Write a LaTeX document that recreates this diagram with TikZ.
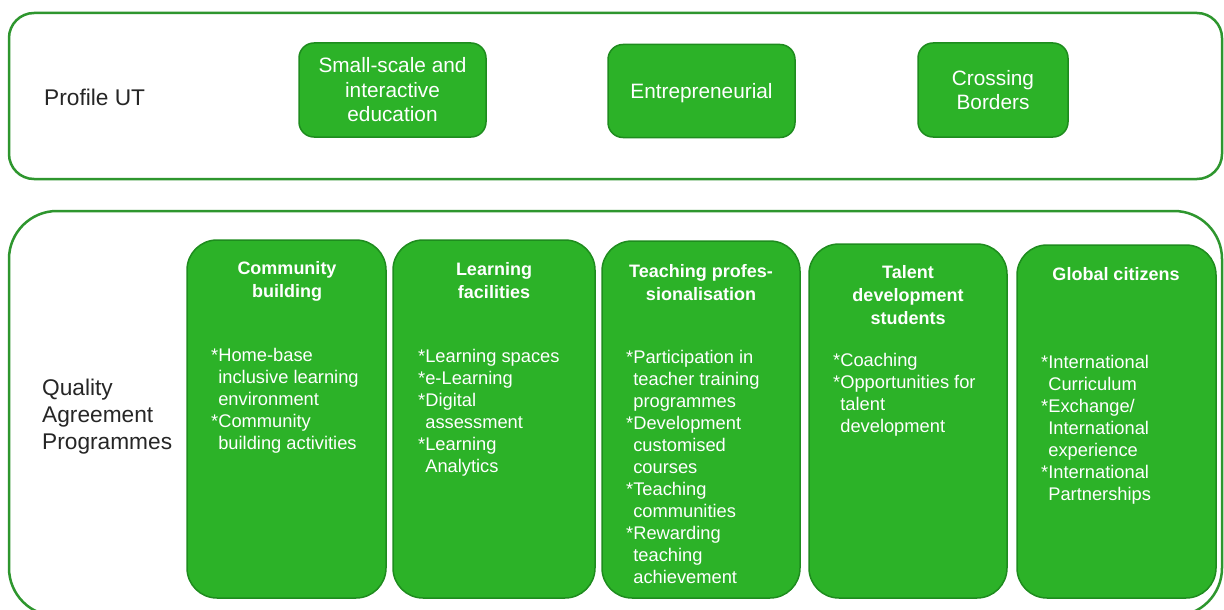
\documentclass[tikz,border=0pt]{standalone}
\usepackage{fontspec}
\setmainfont{Liberation Sans}
\definecolor{gfill}{RGB}{44,178,40}
\definecolor{gdark}{RGB}{30,140,30}
\definecolor{gline}{RGB}{46,150,46}
\newcommand\ind{\phantom{*}}
\newcommand\bul{\mbox{*}}
\newcommand\itemblock[1]{\parbox[t]{185pt}{\raggedright #1}}
\begin{document}
\begin{tikzpicture}[x=1pt,y=-1pt,
  outerbox/.style={draw=gline, line width=2.5pt},
  topbox/.style={draw=gdark, fill=gfill, line width=1.5pt, rounded corners=15pt,
    text=white, font=\fontsize{20.8}{24.5}\selectfont, align=center, inner sep=0pt},
  colbox/.style={draw=gdark, fill=gfill, line width=1.5pt, rounded corners=30pt, inner sep=0pt},
  coltitle/.style={text=white, font=\bfseries\fontsize{18}{23}\selectfont, align=center, inner sep=0pt},
  itemtext/.style={text=white, inner sep=0pt, anchor=base west, font=\fontsize{18.3}{22}\selectfont},
  sidelabel/.style={inner sep=0pt, anchor=base west, font=\fontsize{22.7}{27}\selectfont, text=black!85}
]
\useasboundingbox (0,0) rectangle (1224,610);
\clip (0,0) rectangle (1224,610);
\fill[white] (0,0) rectangle (1224,610);

% outer frames
\draw[outerbox, rounded corners=25pt] (9,13) rectangle (1222,179);
\draw[outerbox, rounded corners=48pt] (9,211) rectangle (1222,616);

% side labels
\node[sidelabel] (profile) at (44,105) {Profile UT};
\node[sidelabel] (quality) at (42,395) {\parbox[t]{200pt}{Quality\\Agreement\\Programmes}};

% profile boxes
\node[topbox, minimum width=187pt, minimum height=94pt] (ss) at (392.5,90) {Small-scale and\\interactive\\education};
\node[topbox, minimum width=187pt, minimum height=93pt, text height=15pt, text depth=0pt] (en) at (701.5,91) {Entrepreneurial};
\node[topbox, minimum width=150pt, minimum height=94pt] (cb2) at (993,90) {Crossing\\Borders};

% programme columns
\node[colbox, minimum width=199pt, minimum height=358pt] (cb) at (286.5,419) {};
\node[colbox, minimum width=202pt, minimum height=358pt] (lf) at (494,419) {};
\node[colbox, minimum width=198pt, minimum height=357pt] (tp) at (701,419.5) {};
\node[colbox, minimum width=198pt, minimum height=354pt] (td) at (908,421) {};
\node[colbox, minimum width=199pt, minimum height=353pt] (gc) at (1116.5,421.5) {};

% titles
\node[coltitle] (cbt) at (287,281) {Community\\building};
\node[coltitle] (lft) at (494,280.5) {Learning\\facilities};
\node[coltitle] (tpt) at (701,282.5) {Teaching profes-\\sionalisation};
\node[coltitle] (tdt) at (908,295) {Talent\\development\\students};
\node[coltitle] (gct) at (1116,274.5) {Global citizens};

% items
\node[itemtext] (cbi) at (211,361) {\itemblock{\bul Home-base\\\ind inclusive learning\\\ind environment\\\bul Community\\\ind building activities}};
\node[itemtext] (lfi) at (418,362) {\itemblock{\bul Learning spaces\\\bul e-Learning\\\bul Digital\\\ind assessment\\\bul Learning\\\ind Analytics}};
\node[itemtext] (tpi) at (626,363) {\itemblock{\bul Participation in\\\ind teacher training\\\ind programmes\\\bul Development\\\ind customised\\\ind courses\\\bul Teaching\\\ind communities\\\bul Rewarding\\\ind teaching\\\ind achievement}};
\node[itemtext] (tdi) at (833,366) {\itemblock{\bul Coaching\\\bul Opportunities for\\\ind talent\\\ind development}};
\node[itemtext] (gci) at (1041,368) {\itemblock{\bul International\\\ind Curriculum\\\bul Exchange/\\\ind International\\\ind experience\\\bul International\\\ind Partnerships}};
\end{tikzpicture}
\end{document}
